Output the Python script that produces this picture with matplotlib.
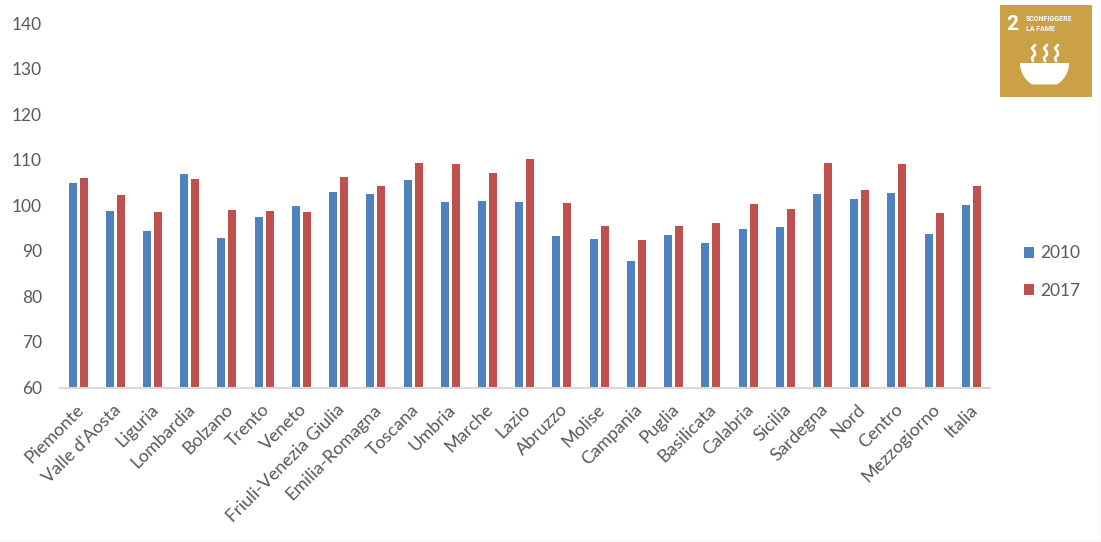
import matplotlib
matplotlib.use("Agg")
import matplotlib.pyplot as plt
from matplotlib.patches import Rectangle, Polygon
from matplotlib.transforms import ScaledTranslation
import numpy as np

regions = ["Piemonte", "Valle d'Aosta", "Liguria", "Lombardia", "Bolzano", "Trento", "Veneto",
           "Friuli-Venezia Giulia", "Emilia-Romagna", "Toscana", "Umbria", "Marche", "Lazio",
           "Abruzzo", "Molise", "Campania", "Puglia", "Basilicata", "Calabria", "Sicilia",
           "Sardegna", "Nord", "Centro", "Mezzogiorno", "Italia"]
values_2010 = [104.8, 98.7, 94.3, 106.8, 92.8, 97.4, 99.8, 102.9, 102.4, 105.5, 100.7, 100.9, 100.7,
               93.2, 92.6, 87.7, 93.4, 91.7, 94.7, 95.2, 102.4, 101.3, 102.6, 93.6, 100.0]
values_2017 = [105.9, 102.2, 98.5, 105.7, 98.9, 98.7, 98.5, 106.1, 104.2, 109.2, 109.0, 107.0, 110.1,
               100.4, 95.4, 92.3, 95.4, 96.0, 100.2, 99.1, 109.2, 103.3, 109.0, 98.2, 104.2]
yticks = [60, 70, 80, 90, 100, 110, 120, 130, 140]

W, H = 1101, 542
plt.rcParams["font.family"] = ["Lato", "DejaVu Sans"]
fig = plt.figure(figsize=(W / 100, H / 100), dpi=100)
ax = fig.add_axes([59.5 / W, 1 - 387.5 / H, 930.5 / W, 364.5 / H])

x = np.arange(len(regions))
bar_w = 0.215
ax.bar(x - 0.148, values_2010, bar_w, color="#4F81BD", label="2010")
ax.bar(x + 0.148, values_2017, bar_w, color="#C0504D", label="2017")

ax.set_xlim(-0.5, len(regions) - 0.5)
ax.set_ylim(60, 140)
ax.set_yticks(yticks)
ax.set_xticks(x)
ax.set_xticklabels(regions, rotation=45, ha="right", rotation_mode="anchor")
ax.tick_params(axis="y", length=0, labelsize=12.5, labelcolor="#595959", pad=12.6)
ax.tick_params(axis="x", length=0, labelsize=13, labelcolor="#595959", pad=10)
shift = ScaledTranslation(-2.5 / 100, 0, fig.dpi_scale_trans)
for lab in ax.get_xticklabels():
    lab.set_transform(lab.get_transform() + shift)
for s in ["top", "right", "left"]:
    ax.spines[s].set_visible(False)
ax.spines["bottom"].set_color("#D9D9D9")
ax.spines["bottom"].set_linewidth(1.5)

# legend squares + text
fig.legend(loc="center left", bbox_to_anchor=(1024 / W, 1 - 272 / H), frameon=False,
           fontsize=12.5, labelcolor="#595959", handlelength=0.58, handleheight=0.58,
           handletextpad=0.36, labelspacing=1.22, borderpad=0, borderaxespad=0)

# logo
logo = fig.add_axes([1000 / W, 1 - 97 / H, 92 / W, 92 / H])
logo.set_xlim(0, 92)
logo.set_ylim(92, 0)
logo.axis("off")
logo.add_patch(Rectangle((0, 0), 92, 92, color="#CBA147", lw=0))
logo.text(12.5, 19, "2", color="white", fontsize=15, fontweight="bold", ha="center", va="center",
          family=["Liberation Sans Narrow", "Roboto"])
logo.text(26, 14, "SCONFIGGERE", color="white", fontsize=5, fontweight="bold", va="center",
          family=["Liberation Sans Narrow", "Roboto"])
logo.text(26, 24, "LA FAME", color="white", fontsize=5, fontweight="bold", va="center",
          family=["Liberation Sans Narrow", "Roboto"])
# bowl
a = np.linspace(0, np.pi, 40)
bowl = np.column_stack([44.5 + 24.5 * np.cos(a), np.minimum(58 + 25 * np.sin(a), 79.5)])
logo.add_patch(Polygon(bowl, closed=True, color="white", lw=0))
t = np.array([0, 0.2, 0.4, 0.6, 0.8, 1.0])
for sx in [33, 45, 56]:
    logo.plot(sx + np.array([2, -1, 1.5, 2, -1, 0]), 40 + 16 * t, color="white", lw=1.9,
              solid_capstyle="round")

# outer border
fig.add_artist(plt.Line2D([0, 1], [0.5 / H, 0.5 / H], color="#D0D0D0", lw=1))
fig.add_artist(plt.Line2D([1 - 0.5 / W, 1 - 0.5 / W], [0, 1], color="#E0E0E0", lw=1))

fig.savefig("out.png", dpi=100)
